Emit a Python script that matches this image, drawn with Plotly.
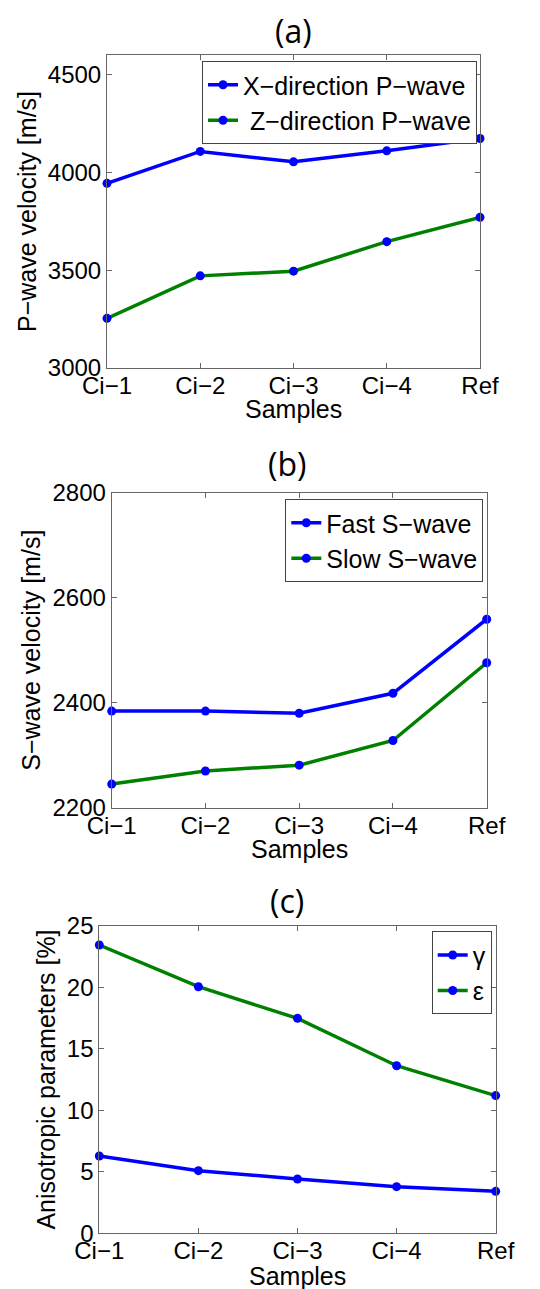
import plotly.graph_objects as go

samples = ["Ci\u22121", "Ci\u22122", "Ci\u22123", "Ci\u22124", "Ref"]
xpos = [0, 1, 2, 3, 4]

vp_x = [3944, 4107, 4054, 4110, 4173]
vp_z = [3254, 3471, 3495, 3646, 3770]

vs_fast = [2384, 2384, 2380, 2418, 2559]
vs_slow = [2245, 2270, 2281, 2328, 2476]

gamma = [6.28, 5.09, 4.41, 3.79, 3.41]
epsilon = [23.43, 20.04, 17.47, 13.62, 11.19]

# the page body has an 8px margin, so the figure is offset by 8px
OFF = 8
W, H = 540 - OFF, 1289 - OFF
BLUE = "#0000FF"
GREEN = "#008000"
FONT = "Liberation Sans, Arial, sans-serif"
TITLEFONT = "Open Sans, Lato, sans-serif"

fig = go.Figure()

def add(x, y, name, color, xa, ya, legend):
    fig.add_trace(go.Scatter(
        x=x, y=y, name=name, mode="lines+markers",
        line=dict(color=color, width=3.5),
        marker=dict(color=BLUE, size=9),
        xaxis=xa, yaxis=ya, legend=legend, cliponaxis=False,
    ))

add(xpos, vp_x, "X\u2212direction P\u2212wave", BLUE, "x", "y", "legend")
add(xpos, vp_z, " Z\u2212direction P\u2212wave", GREEN, "x", "y", "legend")
add(xpos, vs_fast, "Fast S\u2212wave", BLUE, "x2", "y2", "legend2")
add(xpos, vs_slow, "Slow S\u2212wave", GREEN, "x2", "y2", "legend2")
add(xpos, gamma, "\u03b3", BLUE, "x3", "y3", "legend3")
add(xpos, epsilon, "\u03b5", GREEN, "x3", "y3", "legend3")

def px_x(v):
    return (v - OFF) / W

def px_y(v):
    return 1 - (v - OFF) / H

panels = [
    # left, right, top, bottom (pixels in the page)
    (107, 480, 55, 368),
    (111.7, 486.7, 492.7, 807.7),
    (99.3, 495.7, 925.7, 1233.3),
]
yranges = [[3000, 4600], [2200, 2800], [0, 25]]
ytickvals = [[3000, 3500, 4000, 4500], [2200, 2400, 2600, 2800], [0, 5, 10, 15, 20, 25]]
ytitles = ["P\u2212wave velocity [m/s]", "S\u2212wave velocity [m/s]", "Anisotropic parameters [%]"]

axis_common = dict(
    showline=True, linecolor="#666666", linewidth=1, mirror="ticks",
    ticks="inside", ticklen=5, tickcolor="#666666",
    showgrid=False, zeroline=False, automargin=False,
    tickfont=dict(family=FONT, size=24, color="black"),
)

layout = {}
for i, (l, r, t, b) in enumerate(panels):
    sfx = "" if i == 0 else str(i + 1)
    layout["xaxis" + sfx] = dict(
        domain=[px_x(l), px_x(r)], anchor="y" + sfx,
        range=[0, 4], tickvals=xpos, ticktext=samples,
        ticklabelstandoff=-4, **axis_common,
    )
    layout["yaxis" + sfx] = dict(
        domain=[px_y(b), px_y(t)], anchor="x" + sfx,
        range=yranges[i], tickvals=ytickvals[i],
        title=dict(text=ytitles[i], font=dict(family=FONT, size=25, color="black"), standoff=4),
        **axis_common,
    )

leg_common = dict(
    bgcolor="white", bordercolor="#444444", borderwidth=1,
    font=dict(family=FONT, size=25, color="black"),
    xanchor="right", yanchor="top", tracegroupgap=0, itemwidth=30,
)
layout["legend"] = dict(x=px_x(477), y=px_y(61), **leg_common)
layout["legend2"] = dict(x=px_x(483.3), y=px_y(499), **leg_common)
layout["legend3"] = dict(x=px_x(491.7), y=px_y(931.3), **leg_common)

annotations = []
for txt, xc, yc in [("(a)", 293, 30), ("(b)", 287, 464), ("(c)", 287, 900)]:
    annotations.append(dict(
        text=txt, x=px_x(xc), y=px_y(yc), xref="paper", yref="paper",
        xanchor="center", yanchor="middle", showarrow=False,
        font=dict(family=TITLEFONT, size=32, color="black"),
    ))
for xc, yc in [(293, 409), (299, 849), (297, 1276)]:
    annotations.append(dict(
        text="Samples", x=px_x(xc), y=px_y(yc), xref="paper", yref="paper",
        xanchor="center", yanchor="middle", showarrow=False,
        font=dict(family=FONT, size=25, color="black"),
    ))

fig.update_layout(
    template="none",
    width=W, height=H, margin=dict(l=0, r=0, t=0, b=0, autoexpand=False),
    paper_bgcolor="white", plot_bgcolor="white",
    annotations=annotations, showlegend=True,
    **layout,
)

fig.write_html("out.html")
